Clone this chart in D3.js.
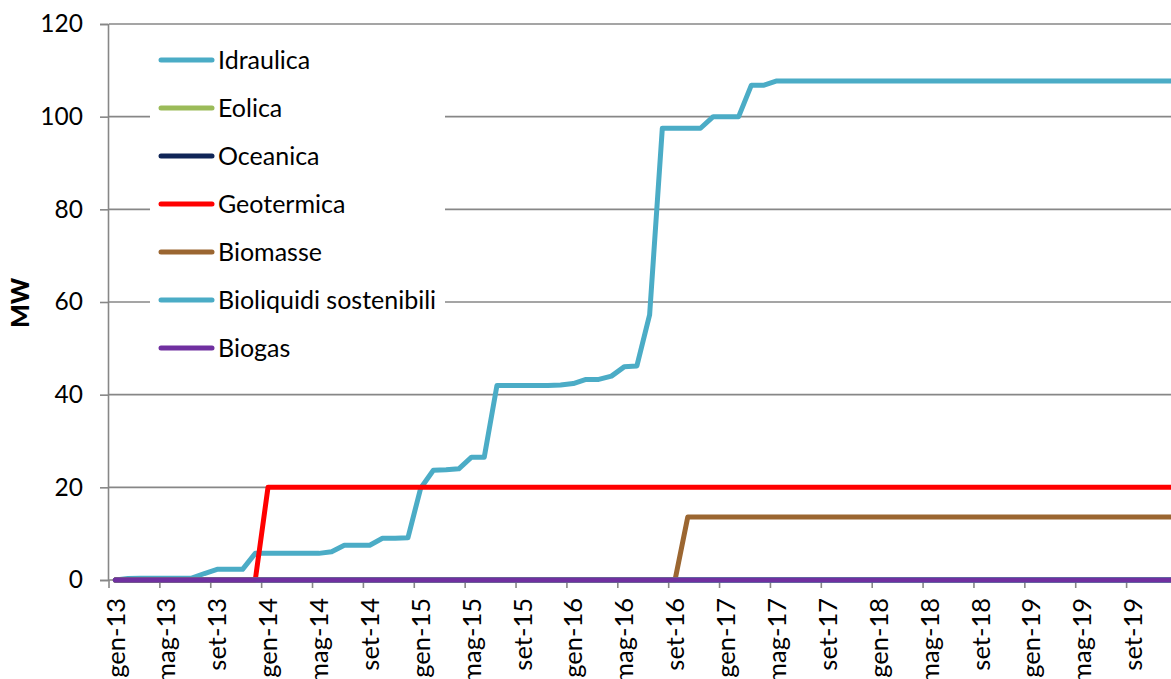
<!DOCTYPE html>
<html>
<head>
<meta charset="utf-8">
<script src="https://cdn.jsdelivr.net/npm/d3@7"></script>
<style>
  html, body { margin: 0; padding: 0; background: #fff; }
  svg { display: block; }
  text { font-family: Lato, "Open Sans", sans-serif; fill: #000; }
</style>
</head>
<body>
<svg id="chart" width="1171" height="679"></svg>
<script>
// ---------- DATA ----------
const monthNames = ["gen","feb","mar","apr","mag","giu","lug","ago","set","ott","nov","dic"];
const years = ["13","14","15","16","17","18","19"];
const categories = [];
years.forEach(y => monthNames.forEach(m => categories.push(m + "-" + y)));

const seriesNames = ["Idraulica","Eolica","Oceanica","Geotermica","Biomasse","Bioliquidi sostenibili","Biogas"];

const idraulica = [0,0.3,0.4,0.4,0.4,0.4,0.4,1.4,2.3,2.3,2.3,5.75,
  5.75,5.75,5.75,5.75,5.75,6.1,7.5,7.5,7.5,9.0,9.0,9.1,
  19.8,23.7,23.8,24.0,26.5,26.5,42.0,42.0,42.0,42.0,42.0,42.1,
  42.4,43.3,43.3,44.0,46.0,46.2,57.2,97.5,97.5,97.5,97.5,100.0,
  100.0,100.0,106.8,106.8,107.7,107.7,107.7,107.7,107.7,107.7,107.7,107.7,
  107.7,107.7,107.7,107.7,107.7,107.7,107.7,107.7,107.7,107.7,107.7,107.7,
  107.7,107.7,107.7,107.7,107.7,107.7,107.7,107.7,107.7,107.7,107.7,107.7];
const eolica = [0,0,0,0,0,0,0,0,0,0,0,0, 0,0,0,0,0,0,0,0,0,0,0,0,
  0,0,0,0,0,0,0,0,0,0,0,0, 0,0,0,0,0,0,0,0,0,0,0,0,
  0,0,0,0,0,0,0,0,0,0,0,0, 0,0,0,0,0,0,0,0,0,0,0,0, 0,0,0,0,0,0,0,0,0,0,0,0];
const oceanica = [0,0,0,0,0,0,0,0,0,0,0,0, 0,0,0,0,0,0,0,0,0,0,0,0,
  0,0,0,0,0,0,0,0,0,0,0,0, 0,0,0,0,0,0,0,0,0,0,0,0,
  0,0,0,0,0,0,0,0,0,0,0,0, 0,0,0,0,0,0,0,0,0,0,0,0, 0,0,0,0,0,0,0,0,0,0,0,0];
const geotermica = [0,0,0,0,0,0,0,0,0,0,0,0,
  20,20,20,20,20,20,20,20,20,20,20,20, 20,20,20,20,20,20,20,20,20,20,20,20,
  20,20,20,20,20,20,20,20,20,20,20,20, 20,20,20,20,20,20,20,20,20,20,20,20,
  20,20,20,20,20,20,20,20,20,20,20,20, 20,20,20,20,20,20,20,20,20,20,20,20];
const biomasse = [0,0,0,0,0,0,0,0,0,0,0,0, 0,0,0,0,0,0,0,0,0,0,0,0,
  0,0,0,0,0,0,0,0,0,0,0,0, 0,0,0,0,0,0,0,0,0,13.6,13.6,13.6,
  13.6,13.6,13.6,13.6,13.6,13.6,13.6,13.6,13.6,13.6,13.6,13.6,
  13.6,13.6,13.6,13.6,13.6,13.6,13.6,13.6,13.6,13.6,13.6,13.6,
  13.6,13.6,13.6,13.6,13.6,13.6,13.6,13.6,13.6,13.6,13.6,13.6];
const bioliquidi = [0,0,0,0,0,0,0,0,0,0,0,0, 0,0,0,0,0,0,0,0,0,0,0,0,
  0,0,0,0,0,0,0,0,0,0,0,0, 0,0,0,0,0,0,0,0,0,0,0,0,
  0,0,0,0,0,0,0,0,0,0,0,0, 0,0,0,0,0,0,0,0,0,0,0,0, 0,0,0,0,0,0,0,0,0,0,0,0];
const biogas = [0,0,0,0,0,0,0,0,0,0,0,0, 0,0,0,0,0,0,0,0,0,0,0,0,
  0,0,0,0,0,0,0,0,0,0,0,0, 0,0,0,0,0,0,0,0,0,0,0,0,
  0,0,0,0,0,0,0,0,0,0,0,0, 0,0,0,0,0,0,0,0,0,0,0,0, 0,0,0,0,0,0,0,0,0,0,0,0];

const seriesValues = [idraulica, eolica, oceanica, geotermica, biomasse, bioliquidi, biogas];
const seriesColors = ["#4BACC6","#9BBB59","#0F2557","#FF0000","#9B6631","#4BACC6","#7030A0"];

const yTicks = [0,20,40,60,80,100,120];
const xTickLabels = categories.filter((c, i) => i % 4 === 0);
const yTitle = "MW";

// ---------- CHART ----------
const svg = d3.select("#chart");
const plotLeft = 109, plotTop = 24, plotBottom = 580;
const stepPx = 12.72;

const x = d3.scaleBand().domain(categories)
  .range([plotLeft, plotLeft + categories.length * stepPx]).padding(0);
const xc = c => x(c) + x.bandwidth() / 2;
const y = d3.scaleLinear().domain([0, 120]).range([plotBottom, plotTop]);

// gridlines
svg.append("g").selectAll("line").data(yTicks.filter(t => t > 0)).join("line")
  .attr("x1", plotLeft).attr("x2", 1180)
  .attr("y1", d => y(d)).attr("y2", d => y(d))
  .attr("stroke", "#878787").attr("stroke-width", 1.6);

// y axis
const yAxis = svg.append("g").attr("transform", `translate(${plotLeft - 1},0)`)
  .call(d3.axisLeft(y).tickValues(yTicks).tickSize(8).tickPadding(17));
yAxis.select(".domain").attr("stroke", "#878787").attr("stroke-width", 1.6);
yAxis.selectAll(".tick line").attr("stroke", "#878787").attr("stroke-width", 1.6);
yAxis.selectAll(".tick text").style("font-size", "24.5px").style("font-family", "Lato");

// x axis
svg.append("line").attr("x1", plotLeft).attr("x2", 1180)
  .attr("y1", plotBottom).attr("y2", plotBottom)
  .attr("stroke", "#878787").attr("stroke-width", 1.6);
svg.append("g").selectAll("line").data(xTickLabels).join("line")
  .attr("x1", d => x(d)).attr("x2", d => x(d))
  .attr("y1", plotBottom).attr("y2", plotBottom + 8)
  .attr("stroke", "#878787").attr("stroke-width", 1.6);
const xAxis = svg.append("g").attr("transform", `translate(0,${plotBottom})`)
  .call(d3.axisBottom(x).tickValues(xTickLabels).tickSize(0));
xAxis.select(".domain").remove();
xAxis.selectAll(".tick text")
  .attr("transform", "rotate(-90)")
  .attr("x", -18).attr("y", 0).attr("dy", "0.36em")
  .attr("text-anchor", "end")
  .style("font-size", "25.5px").style("font-family", "Lato");

// y title
svg.append("text").attr("transform", "translate(19.5,303) rotate(-90)")
  .attr("text-anchor", "middle").attr("dy", "0.36em")
  .style("font-size", "25px").style("font-weight", "900").text(yTitle);

// legend box (covers gridlines)
const legend = svg.append("g");
legend.append("rect").attr("x", 150).attr("y", 36).attr("width", 295).attr("height", 336)
  .attr("fill", "#fff");

// series
const line = d3.line().x((d, i) => xc(categories[i])).y(d => y(d));
svg.append("g").selectAll("path").data(seriesValues).join("path")
  .attr("d", d => line(d))
  .attr("fill", "none")
  .attr("stroke", (d, i) => seriesColors[i])
  .attr("stroke-width", 5)
  .attr("stroke-linejoin", "round")
  .attr("stroke-linecap", "round");

// legend entries
const items = legend.selectAll("g.item").data(seriesNames).join("g")
  .attr("class", "item")
  .attr("transform", (d, i) => `translate(0,${60 + i * 48})`);
items.append("line").attr("x1", 161).attr("x2", 212).attr("y1", 0).attr("y2", 0)
  .attr("stroke", (d, i) => seriesColors[i]).attr("stroke-width", 5)
  .attr("stroke-linecap", "round");
items.append("text").attr("x", 218).attr("y", 0).attr("dy", "0.36em")
  .style("font-size", "25px").text(d => d);
</script>
</body>
</html>
